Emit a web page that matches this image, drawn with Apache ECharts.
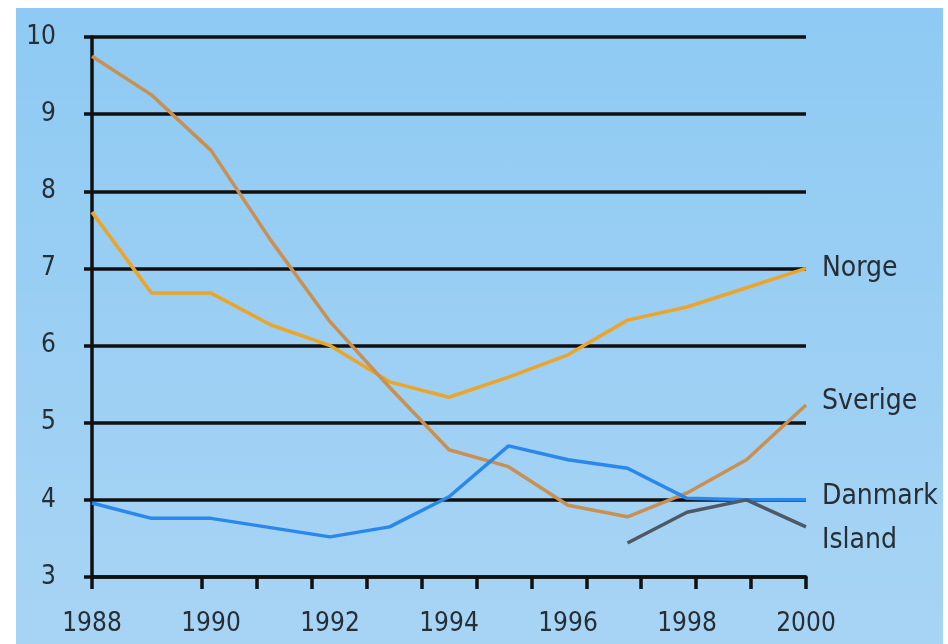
<!DOCTYPE html>
<html><head><meta charset="utf-8">
<script src="https://cdn.jsdelivr.net/npm/echarts@6/dist/echarts.min.js"></script>
<style>
html,body{margin:0;padding:0;background:#fff;width:948px;height:644px;overflow:hidden}
#bg{position:absolute;left:16px;top:8px;width:927px;height:636px;background:linear-gradient(#8ecaf3,#a8d4f4)}
#c{position:absolute;left:0;top:0;width:948px;height:644px}
</style></head><body>
<div id="bg"></div><div id="c"></div>
<script>
const years = [1988,1989,1990,1991,1992,1993,1994,1995,1996,1997,1998,1999,2000];
const yTicks = [3,4,5,6,7,8,9,10];
const xTickLabels = [1988,1990,1992,1994,1996,1998,2000];
const norge   = [7.73,6.68,6.68,6.27,6.0,5.53,5.33,5.59,5.88,6.33,6.5,6.75,7.0];
const sverige = [9.75,9.25,8.53,7.37,6.31,5.46,4.65,4.43,3.93,3.78,4.09,4.52,5.23];
const danmark = [3.96,3.76,3.76,3.64,3.52,3.65,4.04,4.70,4.52,4.41,4.02,4.0,4.0];
const island  = [null,null,null,null,null,null,null,null,null,3.44,3.84,4.0,3.65];
const names = ['Norge','Sverige','Danmark','Island'];
const colors = ['#eaa52a','#c89052','#2a88ec','#4d5a66'];
const tickBands = ['','','','','','','','','','','','','']; // 13 tick bands along the x axis

const pair = a => years.map((y,i)=>[y,a[i]]).filter(p=>p[1]!=null);
const font = '"DejaVu Sans Condensed","Liberation Sans Narrow",sans-serif';
const chart = echarts.init(document.getElementById('c'));
const mk = (name, data, color, dy) => ({
  name, type:'line', data:pair(data), showSymbol:false, symbol:'none',
  lineStyle:{color, width:3.5}, z:5,
  endLabel:{show:true, formatter:name, color:'#262e36', fontFamily:font, fontSize:28,
    offset:[8, dy]}
});
chart.setOption({
  animation:false,
  grid:{left:92, right:142, top:37, bottom:67},
  xAxis:[{
    type:'value', min:1988, max:2000, interval:2,
    axisLine:{show:false}, axisTick:{show:false}, splitLine:{show:false},
    axisLabel:{color:'#262e36', fontFamily:font, fontSize:26, margin:34,
      formatter:v=>xTickLabels.includes(v)?String(v):''}
  },{
    type:'category', data:tickBands, boundaryGap:true, position:'bottom',
    axisLine:{show:true, lineStyle:{color:'#111', width:3.5}},
    axisTick:{show:true, length:12, alignWithLabel:false, interval:(i)=>i!==1,
      lineStyle:{color:'#111', width:3.5}},
    axisLabel:{show:false}, splitLine:{show:false}
  }],
  yAxis:{
    type:'value', min:3, max:10, interval:1,
    axisLine:{show:true, lineStyle:{color:'#111', width:3.5}},
    axisTick:{show:true, length:8, lineStyle:{color:'#111', width:3.5}},
    axisLabel:{color:'#262e36', fontFamily:font, fontSize:26, margin:36,
      formatter:v=>yTicks.includes(v)?String(v):''},
    splitLine:{show:true, lineStyle:{color:'#111', width:3.5}}
  },
  series:[
    mk(names[0], norge, colors[0], 0),
    mk(names[1], sverige, colors[1], -3),
    mk(names[2], danmark, colors[2], -3),
    mk(names[3], island, colors[3], 14)
  ]
});
</script></body></html>
